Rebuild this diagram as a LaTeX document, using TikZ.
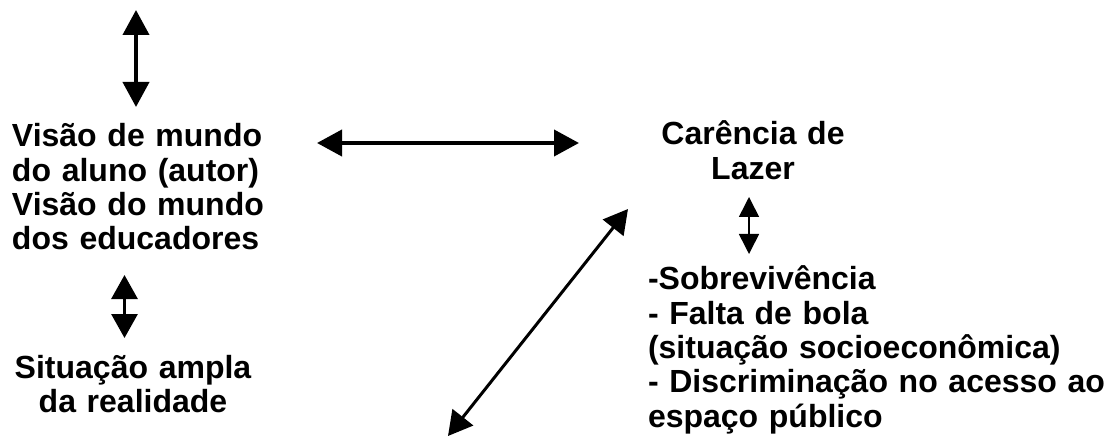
\documentclass[tikz,border=0pt]{standalone}
\usepackage{fontspec}
\setmainfont{Liberation Sans}
\usetikzlibrary{arrows.meta}
\tikzset{
  txt/.style={inner sep=0pt, outer sep=0pt, font=\fontsize{32}{34.3}\selectfont\bfseries},
  bigarrow/.style={line width=4pt, {Triangle[length=25pt,width=26pt]}-{Triangle[length=25pt,width=26pt]}},
  midarrow/.style={line width=3pt, {Triangle[length=24pt,width=26pt]}-{Triangle[length=24pt,width=26pt]}},
  smallarrow/.style={line width=1.6pt, {Triangle[length=20pt,width=20pt]}-{Triangle[length=20pt,width=20pt]}}
}
\begin{document}
\begin{tikzpicture}[x=1pt,y=-1pt]
\useasboundingbox (0,0) rectangle (1115,443);
% text blocks
\node[txt, text width=270pt, align=left, anchor=base west] (vis) at (12,147)
  {Visão de mundo\\do aluno (autor)\\Visão do mundo\\dos educadores};
\node[txt, text width=260pt, align=center, anchor=base] (sit) at (133,378)
  {Situação ampla\\da realidade};
\node[txt, text width=260pt, align=center, anchor=base] (car) at (753,145)
  {Carência de\\Lazer};
\node[txt, text width=460pt, align=left, anchor=base west] (sob) at (648,290)
  {-Sobrevivência\\- Falta de bola\\\makebox[428pt][s]{(situação socioeconômica)}\\\makebox[460pt][s]{- Discriminação no acesso ao}\\espaço público};
% arrow ends
\coordinate (t1) at (136,10);
\coordinate (t2) at (136,107);
\coordinate (h1) at (317,143);
\coordinate (h2) at (579,143);
\coordinate (m1) at (124.5,275);
\coordinate (m2) at (124.5,338);
\coordinate (s1) at (749,197);
\coordinate (s2) at (749,254);
\coordinate (d1) at (448,436);
\coordinate (d2) at (628,209);
% arrows
\draw[bigarrow] (t1) -- (t2);
\draw[bigarrow] (h1) -- (h2);
\draw[midarrow] (m1) -- (m2);
\draw[smallarrow] (s1) -- (s2);
\draw[midarrow] (d1) -- (d2);
\end{tikzpicture}
\end{document}
